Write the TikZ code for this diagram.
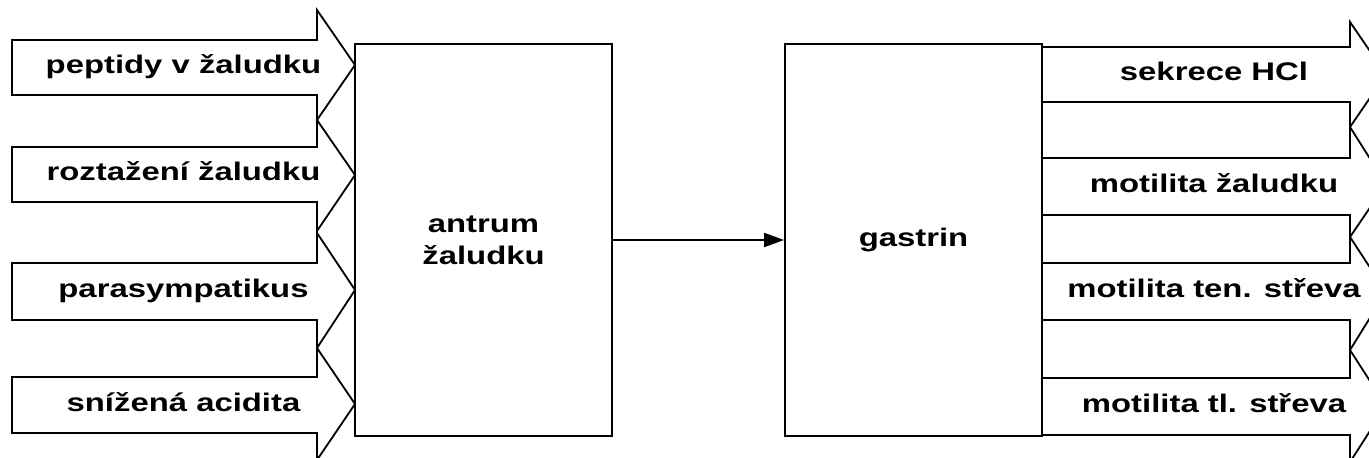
\documentclass[tikz,border=0pt]{standalone}
\usepackage{fontspec}
\setmainfont{Liberation Sans}
\newfontfamily\labelfont[FakeStretch=1.29]{Liberation Sans}
\usetikzlibrary{arrows.meta}
\tikzset{every picture/.style={line width=1.35pt}}
\tikzset{
  lbl/.style={anchor=base,inner sep=0.75pt,font=\labelfont\bfseries\fontsize{19.1}{24}\selectfont},
  organ/.style={draw,minimum width=192.75pt,minimum height=294pt,inner sep=0pt,align=center,font=\labelfont\bfseries\fontsize{19.1}{24}\selectfont}
}

\begin{document}
\begin{tikzpicture}[x=0.75pt,y=0.75pt,yscale=-1,xscale=1]
\path [use as bounding box] (0,0) rectangle (1369,457);
\clip (0,0) rectangle (1369,457);

%Shape: Arrow, peptidy
\draw (12,40) -- (317,40) -- (317,10) -- (355,65) -- (317,120) -- (317,95) -- (12,95) -- cycle ;
%Shape: Arrow, roztazeni
\draw (12,147) -- (317,147) -- (317,120) -- (355,175) -- (317,231) -- (317,202) -- (12,202) -- cycle ;
%Shape: Arrow, parasympatikus
\draw (12,263) -- (317,263) -- (317,233) -- (355,290) -- (317,348) -- (317,320) -- (12,320) -- cycle ;
%Shape: Arrow, acidita
\draw (12,377) -- (317,377) -- (317,348) -- (355,404) -- (317,460) -- (317,433) -- (12,433) -- cycle ;

%Shape: Arrow, HCl
\draw (1042,47) -- (1350,47) -- (1350,22) -- (1386,74.5) -- (1350,127) -- (1350,102) -- (1042,102) -- cycle ;
%Shape: Arrow, zaludek
\draw (1042,158) -- (1350,158) -- (1350,127) -- (1386,184) -- (1350,237) -- (1350,215) -- (1042,215) -- cycle ;
%Shape: Arrow, tenke strevo
\draw (1042,263) -- (1350,263) -- (1350,237) -- (1386,292) -- (1350,350) -- (1350,320) -- (1042,320) -- cycle ;
%Shape: Arrow, tluste strevo
\draw (1042,378) -- (1350,378) -- (1350,350) -- (1386,406) -- (1350,462) -- (1350,435) -- (1042,435) -- cycle ;

% Boxes
\node [organ] (antrum) at (483.5,240) {antrum\\žaludku};
\node [organ] (gastrin) at (913.5,240) {gastrin};

%Straight Lines
\draw [-{Triangle[length=15pt,width=10.5pt]}] (antrum) -- (gastrin) ;

% Text Node
\node [lbl] (peptidy) at (183.5,73.5) {peptidy v žaludku};
% Text Node
\node [lbl] (roztazeni) at (183.5,180.5) {roztažení žaludku};
% Text Node
\node [lbl] (parasymp) at (183.5,297.5) {parasympatikus};
% Text Node
\node [lbl] (acidita) at (183.5,411) {snížená acidita};
% Text Node
\node [lbl] (hcl) at (1214,80.5) {sekrece HCl};
% Text Node
\node [lbl] (motzal) at (1214,192.5) {motilita žaludku};
% Text Node
\node [lbl] (motten) at (1214,297.5) {motilita ten. střeva};
% Text Node
\node [lbl] (mottl) at (1214,412.5) {motilita tl. střeva};

\end{tikzpicture}
\end{document}
